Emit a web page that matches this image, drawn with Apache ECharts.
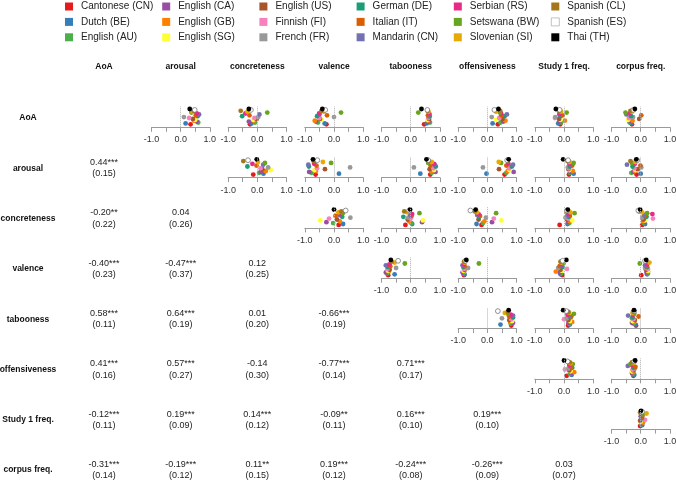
<!DOCTYPE html>
<html><head><meta charset="utf-8">
<script src="https://cdn.jsdelivr.net/npm/echarts@6/dist/echarts.min.js"></script>
<style>html,body{margin:0;padding:0;background:#fff}#c{width:676px;height:481px}</style>
</head><body><div id="c"></div>
<script>
// ---------------- data ----------------
const languages = ['Cantonese (CN)','Dutch (BE)','English (AU)','English (CA)','English (GB)','English (SG)','English (US)','Finnish (FI)','French (FR)','German (DE)','Italian (IT)','Mandarin (CN)','Serbian (RS)','Setswana (BW)','Slovenian (SI)','Spanish (CL)','Spanish (ES)','Thai (TH)'];
const variables = ['AoA','arousal','concreteness','valence','tabooness','offensiveness','Study 1 freq.','corpus freq.'];
const tickLabels = ['-1.0','0.0','1.0'];

// per-language correlations (order = languages)
const AoA_arousal = [0.34,0.17,0.60,0.55,0.45,0.50,0.42,0.29,0.11,0.58,0.52,0.63,0.55,0.37,0.40,0.45,0.48,0.31];
const AoA_concreteness = [-0.25,-0.20,-0.08,-0.29,-0.12,-0.14,-0.02,-0.10,0.03,-0.52,-0.27,0.07,-0.41,0.34,-0.34,-0.57,-0.22,-0.29];
const AoA_valence = [-0.26,-0.32,-0.55,-0.62,-0.66,-0.42,-0.48,-0.50,0.00,-0.58,-0.24,-0.50,-0.51,0.24,-0.35,-0.43,-0.30,-0.40];
const AoA_tabooness = [0.46,0.55,0.66,0.62,0.60,0.58,0.63,0.60,0.62,0.65,0.59,0.64,0.63,0.26,0.61,0.58,0.57,0.37];
const AoA_offensiveness = [0.36,0.18,0.45,0.55,0.62,0.30,0.52,0.41,0.15,0.59,0.48,0.67,0.47,0.43,0.30,0.44,0.24,0.38];
const AoA_study1 = [-0.13,-0.20,-0.10,-0.15,0.03,-0.12,-0.17,-0.31,-0.30,-0.12,-0.05,-0.16,-0.14,0.09,-0.10,-0.18,-0.15,-0.28];
const AoA_corpus = [-0.30,-0.32,-0.38,-0.35,-0.28,-0.43,-0.05,-0.40,-0.26,-0.33,0.02,-0.49,-0.37,-0.52,-0.30,-0.35,-0.25,-0.20];

const arousal_concreteness = [-0.14,0.21,0.06,0.12,0.29,0.46,0.17,0.11,0.37,-0.34,-0.03,0.20,-0.17,0.26,0.02,-0.48,-0.32,-0.02];
const arousal_valence = [-0.63,0.17,-0.77,-0.85,-0.62,-0.67,-0.31,-0.58,0.55,-0.86,-0.60,-0.88,-0.68,-0.10,-0.38,-0.70,-0.57,-0.72];
const arousal_tabooness = [0.67,0.33,0.72,0.85,0.70,0.80,0.65,0.78,0.11,0.86,0.68,0.82,0.80,0.60,0.72,0.62,0.60,0.54];
const arousal_offensiveness = [0.59,-0.03,0.65,0.90,0.70,0.76,0.40,0.75,-0.15,0.84,0.65,0.88,0.72,0.47,0.39,0.70,0.68,0.73];
const arousal_study1 = [0.17,0.33,0.20,0.22,0.30,0.18,0.15,0.16,0.13,0.20,0.28,0.22,0.18,0.33,0.19,0.12,0.14,-0.03];
const arousal_corpus = [-0.14,0.00,-0.32,-0.25,-0.20,-0.18,-0.10,-0.22,0.02,-0.28,-0.01,-0.47,-0.20,-0.30,-0.18,-0.35,-0.12,-0.15];

const concreteness_valence = [0.16,0.31,-0.03,-0.26,0.20,-0.47,0.10,-0.17,0.56,0.28,0.05,0.18,0.22,0.30,0.15,0.25,0.40,0.00];
const concreteness_tabooness = [-0.18,0.05,0.02,0.39,-0.05,0.42,-0.10,0.00,-0.08,-0.25,0.03,-0.02,0.05,0.30,-0.12,-0.22,-0.05,-0.02];
const concreteness_offensiveness = [-0.20,-0.37,-0.15,0.16,-0.10,0.48,-0.30,0.22,-0.05,-0.28,-0.25,-0.35,-0.30,0.30,-0.35,-0.43,-0.58,-0.40];
const concreteness_study1 = [-0.15,0.12,0.18,0.15,0.20,0.28,0.10,0.14,0.05,0.17,0.20,0.12,0.16,0.36,0.22,0.08,0.10,0.13];
const concreteness_corpus = [0.05,0.15,0.10,0.12,0.08,0.15,0.10,0.42,0.05,0.20,0.15,0.12,0.40,0.22,0.05,-0.05,-0.08,-0.02];

const valence_tabooness = [-0.77,-0.55,-0.80,-0.85,-0.75,-0.78,-0.72,-0.80,-0.50,-0.78,-0.70,-0.85,-0.73,-0.20,-0.55,-0.65,-0.43,-0.68];
const valence_offensiveness = [-0.80,-0.78,-0.82,-0.85,-0.80,-0.82,-0.78,-0.80,-0.66,-0.82,-0.78,-0.85,-0.80,-0.29,-0.78,-0.80,-0.75,-0.72];
const valence_study1 = [-0.06,-0.12,-0.10,-0.15,-0.28,-0.08,-0.12,0.10,-0.20,-0.05,-0.15,-0.10,-0.08,-0.02,-0.10,-0.12,-0.05,0.08];
const valence_corpus = [0.02,0.22,0.25,0.20,0.25,0.25,0.18,0.25,0.15,0.22,0.20,0.15,0.22,-0.03,0.30,0.18,0.15,0.19];

const tabooness_offensiveness = [0.82,0.45,0.80,0.88,0.78,0.85,0.75,0.82,0.50,0.88,0.75,0.88,0.80,0.70,0.60,0.70,0.36,0.73];
const tabooness_study1 = [0.14,0.20,0.18,0.15,0.28,0.20,0.15,0.00,0.10,0.22,0.25,0.18,0.12,0.34,0.18,0.15,0.08,-0.03];
const tabooness_corpus = [-0.16,-0.18,-0.25,-0.30,-0.22,-0.28,-0.20,-0.25,-0.30,-0.28,-0.07,-0.43,-0.25,-0.22,-0.28,-0.24,-0.22,-0.23];

const offensiveness_study1 = [0.09,0.26,0.20,0.25,0.35,0.22,0.18,0.03,0.15,0.28,0.25,0.20,0.18,0.30,0.22,0.20,0.12,0.00];
const offensiveness_corpus = [-0.25,-0.22,-0.28,-0.30,-0.25,-0.30,-0.25,-0.28,-0.20,-0.25,-0.18,-0.44,-0.30,-0.35,-0.25,-0.30,-0.22,-0.19];

const study1_corpus = [-0.02,0.05,0.02,0.05,0.08,0.00,-0.02,0.15,0.05,0.03,0.05,0.00,0.05,0.08,0.20,-0.02,0.05,0.01];

// lower triangle: mean r (with stars) and SD, per row
const mean_arousal = ['0.44***'];
const sd_arousal = ['(0.15)'];
const mean_concreteness = ['-0.20**','0.04'];
const sd_concreteness = ['(0.22)','(0.26)'];
const mean_valence = ['-0.40***','-0.47***','0.12'];
const sd_valence = ['(0.23)','(0.37)','(0.25)'];
const mean_tabooness = ['0.58***','0.64***','0.01','-0.66***'];
const sd_tabooness = ['(0.11)','(0.19)','(0.20)','(0.19)'];
const mean_offensiveness = ['0.41***','0.57***','-0.14','-0.77***','0.71***'];
const sd_offensiveness = ['(0.16)','(0.27)','(0.30)','(0.14)','(0.17)'];
const mean_study1 = ['-0.12***','0.19***','0.14***','-0.09**','0.16***','0.19***'];
const sd_study1 = ['(0.11)','(0.09)','(0.12)','(0.11)','(0.10)','(0.10)'];
const mean_corpus = ['-0.31***','-0.19***','0.11**','0.19***','-0.24***','-0.26***','0.03'];
const sd_corpus = ['(0.14)','(0.12)','(0.15)','(0.12)','(0.08)','(0.09)','(0.07)'];

// ---------------- styling / layout ----------------
const langColors = ['#E41A1C','#377EB8','#4DAF4A','#984EA3','#FF7F00','#FFFF33','#A65628','#F781BF','#999999','#1B9E77','#D95F02','#7570B3','#E7298A','#66A61E','#E6AB02','#A6761D','#FFFFFF','#000000'];
const FONT = "'Liberation Sans', Arial, sans-serif";
const colC = variables.map((v,i)=>104 + 76.67*i);
const rowC = variables.map((v,i)=>118 + 50.3*i);

const upper = [
  [0,1,AoA_arousal],[0,2,AoA_concreteness],[0,3,AoA_valence],[0,4,AoA_tabooness],[0,5,AoA_offensiveness],[0,6,AoA_study1],[0,7,AoA_corpus],
  [1,2,arousal_concreteness],[1,3,arousal_valence],[1,4,arousal_tabooness],[1,5,arousal_offensiveness],[1,6,arousal_study1],[1,7,arousal_corpus],
  [2,3,concreteness_valence],[2,4,concreteness_tabooness],[2,5,concreteness_offensiveness],[2,6,concreteness_study1],[2,7,concreteness_corpus],
  [3,4,valence_tabooness],[3,5,valence_offensiveness],[3,6,valence_study1],[3,7,valence_corpus],
  [4,5,tabooness_offensiveness],[4,6,tabooness_study1],[4,7,tabooness_corpus],
  [5,6,offensiveness_study1],[5,7,offensiveness_corpus],
  [6,7,study1_corpus]
];
const lower = [
  [1,mean_arousal,sd_arousal],[2,mean_concreteness,sd_concreteness],[3,mean_valence,sd_valence],
  [4,mean_tabooness,sd_tabooness],[5,mean_offensiveness,sd_offensiveness],[6,mean_study1,sd_study1],[7,mean_corpus,sd_corpus]
];

const grid = [], xAxis = [], yAxis = [], series = [];
const AXW = 58.4, AXH = 20.6;
upper.forEach(([r,c,vals], g) => {
  grid.push({left: colC[c]-AXW/2, top: rowC[r]+9.3-AXH, width: AXW, height: AXH, containLabel:false, outerBoundsMode:'none'});
  xAxis.push({gridIndex:g, type:'value', min:-1, max:1, interval:0.5,
    axisLine:{show:true, onZero:false, lineStyle:{color:'#9a9a9a', width:1}},
    axisTick:{show:true, length:4.5, lineStyle:{color:'#9a9a9a', width:1}},
    splitLine:{show:false},
    axisLabel:{show:true, margin:8, fontSize:9, color:'#333', fontFamily:FONT, showMinLabel:true, showMaxLabel:true,
      formatter: v => v===-1 ? tickLabels[0] : (v===0 ? tickLabels[1] : (v===1 ? tickLabels[2] : ''))}
  });
  yAxis.push({gridIndex:g, type:'value', min:-3.33, max:19.56, show:false});
  vals.forEach((v,k) => {
    const s = {type:'scatter', name:languages[k], xAxisIndex:g, yAxisIndex:g, data:[[v,k]],
      symbol:'circle', symbolSize:4.8, silent:true,
      itemStyle: k===16 ? {color:'#FFFFFF', borderColor:'#777', borderWidth:0.8, opacity:1} : {color:langColors[k], opacity:1}};
    if (k===0) {
      s.markLine = {silent:true, symbol:['none','none'], label:{show:false}, animation:false,
        lineStyle:{type:'dotted', color:'#b0b0b0', width:1}, data:[{xAxis:0}]};
    }
    series.push(s);
  });
});

const graphic = [];
variables.forEach((v,i) => {
  graphic.push({type:'text', style:{text:v, x:colC[i], y:67, align:'center', verticalAlign:'middle', textAlign:'center', textVerticalAlign:'middle', font:'bold 8.5px '+FONT, fill:'#111'}});
  graphic.push({type:'text', style:{text:v, x:28, y:rowC[i], align:'center', verticalAlign:'middle', textAlign:'center', textVerticalAlign:'middle', font:'bold 8.5px '+FONT, fill:'#111'}});
});
lower.forEach(([r,means,sds]) => {
  means.forEach((m,c) => {
    graphic.push({type:'text', style:{text:m+'\n'+sds[c], x:colC[c], y:rowC[r], align:'center', verticalAlign:'middle', textAlign:'center', textVerticalAlign:'middle', lineHeight:11.3, font:'9px '+FONT, fill:'#222'}});
  });
});

const legend = [0,1,2,3,4,5].map(i => ({
  orient:'vertical', left: 65 + 97.2*i, top: 0.5, padding:0, itemWidth:8, itemHeight:8, itemGap:3.4, icon:'rect',
  selectedMode:false,
  data: languages.slice(i*3, i*3+3).map(n => n==='Spanish (ES)'
    ? {name:n, itemStyle:{color:'#FFFFFF', borderColor:'#999', borderWidth:0.6}}
    : {name:n}),
  itemStyle:{opacity:1},
  textStyle:{fontSize:10, color:'#222', fontFamily:FONT, lineHeight:12, padding:[0,0,0,3]}
}));

const chart = echarts.init(document.getElementById('c'), null, {renderer:'canvas'});
chart.setOption({animation:false, backgroundColor:'#fff', legend, grid, xAxis, yAxis, series, graphic});
</script>
</body></html>
